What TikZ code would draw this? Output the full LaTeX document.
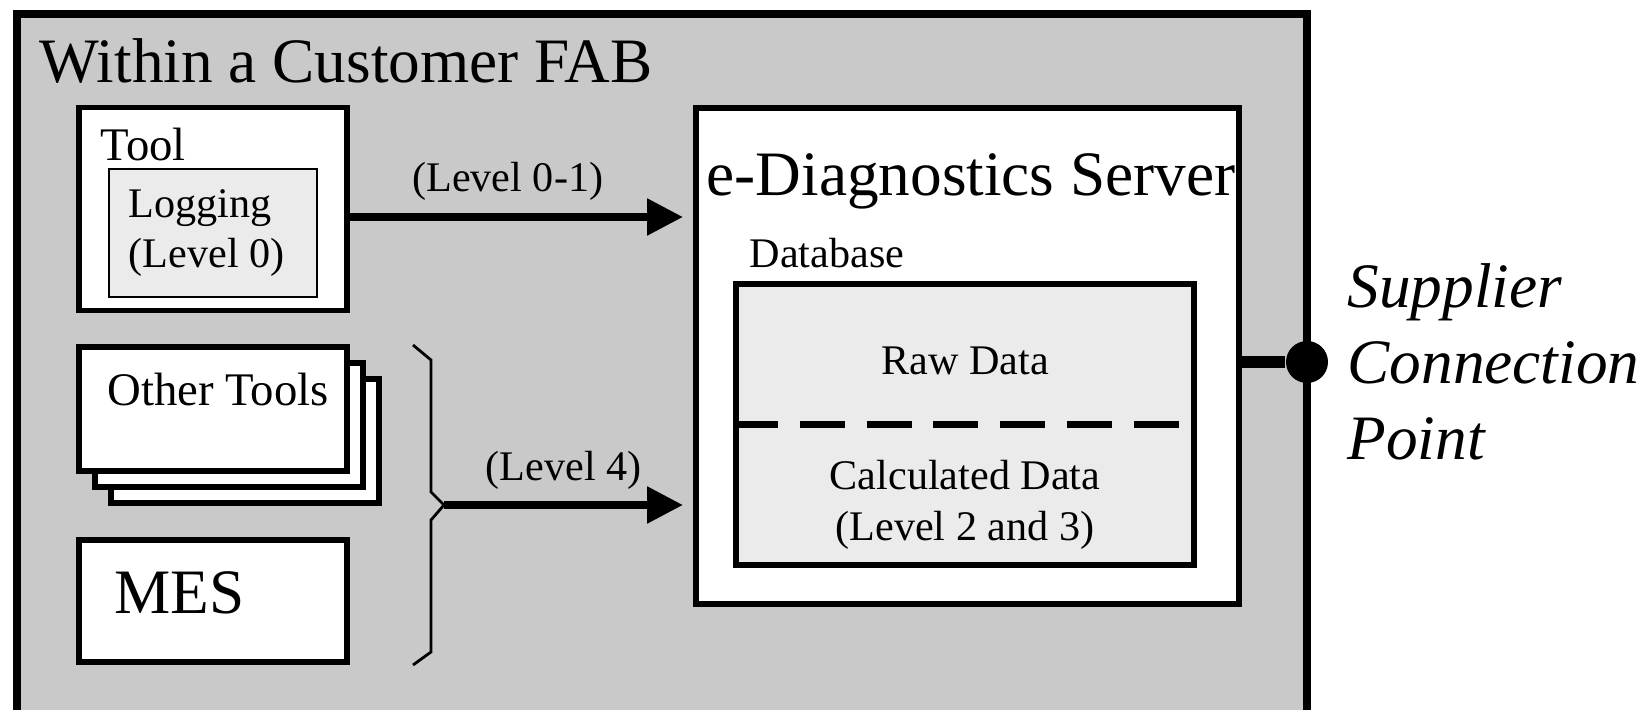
\documentclass[tikz,border=0pt]{standalone}
\usepackage{fontspec}
\setmainfont{Liberation Serif}
\usetikzlibrary{arrows.meta, positioning}
\definecolor{fabgray}{gray}{0.79}
\definecolor{dbgray}{gray}{0.92}
\newcommand{\bigtxt}{\fontsize{18}{21.6}\selectfont}
\newcommand{\midtxt}{\fontsize{13.3}{16}\selectfont}
\newcommand{\smltxt}{\fontsize{12}{14.4}\selectfont}

\begin{document}
\begin{tikzpicture}[
    box/.style={draw, line width=1.7pt, fill=white, inner sep=0pt},
    dbbox/.style={draw, line width=1.7pt, fill=dbgray, inner sep=0pt},
    toolbox/.style={box, minimum width=2.68cm, minimum height=1.24cm},
    lbl/.style={font=\smltxt, inner sep=0pt},
    flow/.style={line width=2.2pt, -{Triangle[length=10.2pt,width=10pt]}, shorten >=0.1cm},
    split/.style={line width=1.8pt, dash pattern=on 12.8pt off 6.2pt},
]
    \clip (0,0) rectangle (16.5,-7.1);
    \draw[line width=2pt, fill=fabgray] (0.17,-0.14) rectangle (13.07,-7.4);
    \node[anchor=base west, font=\bigtxt, inner sep=0pt] (fab) at (0.39,-0.82) {Within a Customer FAB};

    \node[box, minimum width=2.68cm, minimum height=2.03cm] (tool) at (2.13,-2.09) {};
    \node[lbl, font=\midtxt, anchor=base west] (tooltxt) at (1.0,-1.60) {Tool};
    \node[draw, line width=0.6pt, fill=dbgray, minimum width=2.08cm, minimum height=1.28cm] (log) at (2.13,-2.33) {};
    \node[lbl, align=left, anchor=west] (logtxt) at (1.28,-2.33) {Logging\\(Level 0)};

    \foreach \i in {2,1,0}
        \node[toolbox] (other\i) at ({2.13+0.16*\i},{-4.09-0.16*\i}) {};
    \node[lbl, font=\midtxt, anchor=base] (othertxt) at (2.18,-4.05) {Other Tools};

    \node[toolbox, minimum height=1.22cm] (mes) at (2.13,-6.01) {};
    \node[anchor=base west, font=\bigtxt, inner sep=0pt] (mestxt) at (1.14,-6.13) {MES};

    \node[box, minimum width=5.43cm, minimum height=4.96cm] (server) at (9.675,-3.56) {};
    \node[anchor=base, font=\bigtxt, inner sep=0pt] (servertxt) at (9.71,-1.95) {e-Diagnostics Server};
    \node[lbl, anchor=base west] (dbtxt) at (7.49,-2.68) {Database};
    \node[dbbox, minimum width=4.58cm, minimum height=2.81cm] (db) at (9.65,-4.245) {};
    \node[lbl] (raw) at (9.65,-3.61) {Raw Data};
    \draw[split] (db.west) -- ([xshift=-0.13cm]db.east);
    \node[lbl, align=center] (calc) at (9.65,-5.05) {Calculated Data\\(Level 2 and 3)};

    \coordinate (t1) at ([yshift=-0.08cm]tool.east);
    \draw[flow] (t1) -- (t1 -| server.west) node[lbl, pos=0.46, above=0.13cm] {(Level 0-1)};

    \coordinate (brace) at (4.44,-5.05);
    \draw[line width=0.8pt] (brace) -- ++(-0.13,0.13) -- ++(0,1.32) -- ++(-0.18,0.15);
    \draw[line width=0.8pt] (brace) -- ++(-0.13,-0.15) -- ++(0,-1.32) -- ++(-0.18,-0.13);
    \draw[flow] (brace) -- (brace -| server.west) node[lbl, pos=0.48, above=0.12cm] {(Level 4)};

    \node[circle, fill=black, minimum size=0.42cm, inner sep=0pt] (scp) at (13.07,-3.62) {};
    \draw[line width=3.5pt] (server.east |- scp) -- (scp);
    \node[anchor=west, align=left, font=\bigtxt\itshape, inner sep=0pt] (scptxt) at (13.47,-3.62) {Supplier\\Connection\\Point};
\end{tikzpicture}
\end{document}
